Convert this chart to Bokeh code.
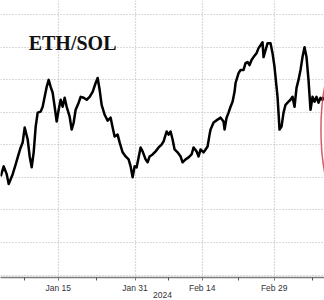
import pandas as pd
from bokeh.plotting import figure
from bokeh.models import FixedTicker, DatetimeTickFormatter, Label, Range1d
from bokeh.embed import file_html
from bokeh.resources import INLINE

# ETH/SOL ratio
dates = [
    "2024-01-03 00:00", "2024-01-03 15:00", "2024-01-04 06:00", "2024-01-04 16:00", "2024-01-05 12:00",
    "2024-01-06 03:00", "2024-01-06 13:00", "2024-01-07 04:00", "2024-01-07 14:00", "2024-01-08 00:00",
    "2024-01-08 15:00", "2024-01-09 01:00", "2024-01-09 11:00", "2024-01-09 21:00", "2024-01-10 07:00",
    "2024-01-10 17:00", "2024-01-11 08:00", "2024-01-11 18:00", "2024-01-12 04:00", "2024-01-12 14:00",
    "2024-01-13 00:00", "2024-01-13 10:00", "2024-01-13 20:00", "2024-01-14 06:00", "2024-01-14 16:00",
    "2024-01-15 02:00", "2024-01-15 12:00", "2024-01-15 22:00", "2024-01-16 08:00", "2024-01-16 18:00",
    "2024-01-17 09:00", "2024-01-17 19:00", "2024-01-18 05:00", "2024-01-18 15:00", "2024-01-19 06:00",
    "2024-01-19 16:00", "2024-01-20 07:00", "2024-01-20 22:00", "2024-01-21 13:00", "2024-01-22 04:00",
    "2024-01-22 19:00", "2024-01-23 05:00", "2024-01-23 15:00", "2024-01-24 01:00", "2024-01-24 16:00",
    "2024-01-25 07:00", "2024-01-25 22:00", "2024-01-26 08:00", "2024-01-26 18:00", "2024-01-27 09:00",
    "2024-01-27 19:00", "2024-01-28 10:00", "2024-01-29 01:00", "2024-01-29 16:00", "2024-01-30 02:00",
    "2024-01-30 12:00", "2024-01-30 22:00", "2024-01-31 08:00", "2024-01-31 18:00", "2024-02-01 04:00",
    "2024-02-01 14:00", "2024-02-02 05:00", "2024-02-02 15:00", "2024-02-03 01:00", "2024-02-03 16:00",
    "2024-02-04 07:00", "2024-02-04 22:00", "2024-02-05 13:00", "2024-02-05 23:00", "2024-02-06 14:00",
    "2024-02-07 00:00", "2024-02-07 10:00", "2024-02-07 20:00", "2024-02-08 06:00", "2024-02-08 21:00",
    "2024-02-09 12:00", "2024-02-09 22:00", "2024-02-10 13:00", "2024-02-11 04:00", "2024-02-11 19:00",
    "2024-02-12 05:00", "2024-02-12 20:00", "2024-02-13 06:00", "2024-02-13 16:00", "2024-02-14 07:00",
    "2024-02-14 17:00", "2024-02-15 03:00", "2024-02-15 13:00", "2024-02-15 18:00", "2024-02-16 09:00",
    "2024-02-17 05:00", "2024-02-17 20:00", "2024-02-18 11:00", "2024-02-18 16:00", "2024-02-19 02:00",
    "2024-02-19 12:00", "2024-02-19 22:00", "2024-02-20 08:00", "2024-02-20 18:00", "2024-02-20 23:00",
    "2024-02-21 14:00", "2024-02-22 00:00", "2024-02-22 15:00", "2024-02-23 01:00", "2024-02-23 11:00",
    "2024-02-23 21:00", "2024-02-24 07:00", "2024-02-24 17:00", "2024-02-25 08:00", "2024-02-25 18:00",
    "2024-02-26 04:00", "2024-02-26 14:00", "2024-02-26 19:00", "2024-02-27 05:00", "2024-02-27 15:00",
    "2024-02-28 06:00", "2024-02-28 16:00", "2024-02-29 02:00", "2024-02-29 12:00", "2024-02-29 17:00",
    "2024-02-29 22:00", "2024-03-01 03:00", "2024-03-01 13:00", "2024-03-01 23:00", "2024-03-02 09:00",
    "2024-03-03 00:00", "2024-03-03 10:00", "2024-03-03 20:00", "2024-03-04 06:00", "2024-03-04 16:00",
    "2024-03-05 02:00", "2024-03-05 12:00", "2024-03-05 22:00", "2024-03-06 08:00", "2024-03-06 18:00",
    "2024-03-07 04:00", "2024-03-07 14:00", "2024-03-08 00:00", "2024-03-08 10:00", "2024-03-08 20:00",
    "2024-03-09 06:00", "2024-03-09 16:00", "2024-03-10 02:00", "2024-03-10 07:00",
]
eth_sol = [
    22.07, 22.68, 22.20, 21.59, 22.20,
    22.80, 23.23, 23.84, 24.15, 25.06,
    24.33, 23.29, 22.62, 23.54, 25.12,
    25.98, 26.04, 26.34, 26.95, 27.56,
    27.99, 27.56, 27.20, 26.34, 25.43,
    26.16, 26.77, 26.34, 26.89, 26.34,
    25.73, 24.94, 25.37, 26.16, 26.59,
    26.95, 26.89, 26.77, 26.95, 27.26,
    27.80, 28.11, 27.38, 26.46, 25.85,
    25.49, 25.67, 25.06, 24.51, 24.63,
    24.15, 23.54, 23.29, 23.11, 22.68,
    22.01, 22.68, 22.62, 23.23, 23.84,
    23.60, 23.11, 22.93, 23.29, 23.41,
    23.60, 23.84, 24.02, 24.21, 24.82,
    24.63, 24.82, 24.33, 23.72, 23.54,
    23.29, 22.93, 23.11, 23.23, 23.41,
    23.84, 23.60, 23.29, 23.72, 23.54,
    23.72, 23.90, 24.63, 24.94, 25.37,
    25.55, 25.67, 25.43, 24.94, 25.67,
    25.98, 26.34, 26.65, 27.26, 27.80,
    28.41, 28.60, 28.60, 29.02, 29.09,
    28.90, 29.21, 29.39, 29.63, 29.94,
    30.12, 30.30, 29.39, 29.82, 30.24,
    30.24, 29.63, 28.78, 27.56, 26.95,
    25.98, 24.94, 25.12, 25.98, 26.46,
    26.65, 26.77, 26.95, 26.34, 27.50,
    27.99, 28.60, 29.39, 30.00, 29.39,
    27.99, 26.16, 26.95, 26.65, 26.95,
    26.59, 26.89, 26.77, 26.95,
]

major_tick_dates = ["2024-01-15", "2024-01-31", "2024-02-14", "2024-02-29"]
minor_tick_dates = ["2024-01-08", "2024-01-23", "2024-02-07", "2024-02-21 12:00", "2024-03-08"]
y_grid_values = [16, 18, 20, 22, 24, 26, 28, 30, 32]
title_text = "ETH/SOL"
year_text = "2024"

# red ring annotation (partly outside the view)
ring_center_date = ["2024-03-14 23:00"]
ring_center_value = [24.94]
ring_width_days = 10.4
ring_height = 10.0

x = pd.to_datetime(dates)
ms = lambda s: pd.Timestamp(s).value / 1e6

p = figure(
    width=324, height=300, x_axis_type="datetime",
    output_backend="svg", toolbar_location=None,
    min_border_left=0, min_border_right=0, min_border_top=0, min_border_bottom=21,
)
p.x_range = Range1d(ms("2024-01-02 23:00"), ms("2024-03-10 12:00"))
p.y_range = Range1d(15.854, 32.866)
p.outline_line_color = None
p.background_fill_color = "white"
p.border_fill_color = "white"

p.yaxis.visible = False

xt = FixedTicker(ticks=[ms(d) for d in major_tick_dates],
                 minor_ticks=[ms(d) for d in minor_tick_dates])
p.xaxis.ticker = xt
p.xaxis.formatter = DatetimeTickFormatter(days="%b %d", months="%b %d", hours="%b %d")
p.xaxis.axis_line_color = "#7a7a7a"
p.xaxis.axis_line_width = 1.5
p.xaxis.major_tick_line_color = "#7a7a7a"
p.xaxis.minor_tick_line_color = "#555555"
p.xaxis.major_tick_out = 3
p.xaxis.major_tick_in = 0
p.xaxis.minor_tick_out = 3
p.xaxis.minor_tick_in = 0
p.xaxis.major_label_text_font = "Liberation Sans"
p.xaxis.major_label_text_font_size = "8.5px"
p.xaxis.major_label_text_color = "#333333"
p.xaxis.major_label_standoff = 2
p.xaxis.axis_label = year_text
p.xaxis.axis_label_text_font = "Liberation Sans"
p.xaxis.axis_label_text_font_size = "8.5px"
p.xaxis.axis_label_text_font_style = "normal"
p.xaxis.axis_label_text_color = "#333333"
p.xaxis.axis_label_standoff = -4

p.xgrid.ticker = xt
p.xgrid.grid_line_color = "#b5b5b5"
p.xgrid.grid_line_dash = "1 2"
p.xgrid.grid_line_width = 1.2
p.ygrid.ticker = FixedTicker(ticks=y_grid_values)
p.ygrid.grid_line_color = "#b5b5b5"
p.ygrid.grid_line_dash = "1 2"
p.ygrid.grid_line_width = 1.2

p.line(x, eth_sol, line_color="black", line_width=2.5, line_join="round")

p.ellipse(x=pd.to_datetime(ring_center_date), y=ring_center_value,
          width=ring_width_days * 86400000, height=ring_height,
          fill_alpha=0, line_color="#d23c4a", line_alpha=0.85, line_width=1.5)

p.add_layout(Label(x=ms("2024-01-08 20:00"), y=30.24, text=title_text,
                   text_font="Liberation Serif", text_font_style="bold",
                   text_font_size="20px", text_color="#111111",
                   text_baseline="alphabetic"))

open("out.html", "w").write(file_html(p, INLINE))
